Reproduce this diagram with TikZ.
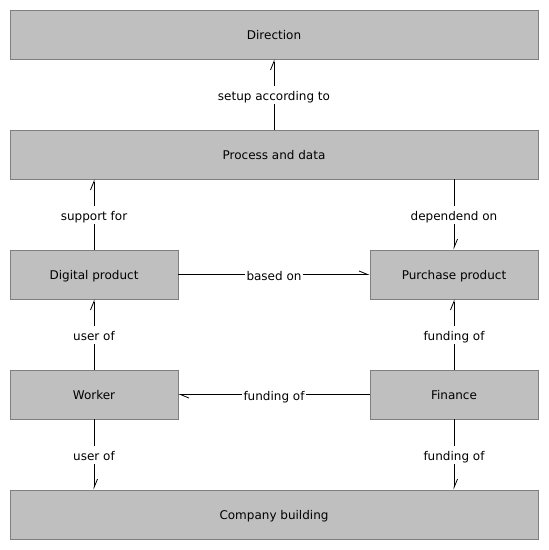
\documentclass[tikz,border=0pt]{standalone}
\usepackage{fontspec}
\setmainfont{DejaVu Sans}
\usetikzlibrary{arrows.meta}
\definecolor{boxfill}{HTML}{BFBFBF}
\definecolor{boxline}{HTML}{7F7F7F}
\begin{document}
\begin{tikzpicture}[x=1pt,y=-1pt,
  box/.style={draw=boxline,fill=boxfill,line width=0.8pt,minimum height=49pt,inner sep=0pt,text height=9pt,text depth=0pt,font=\fontsize{12}{14}\selectfont},
  wide/.style={box,minimum width=528pt},
  narrow/.style={box,minimum width=168pt},
  conn/.style={line width=0.8pt,-{Straight Barb[harpoon,length=8.5pt,width=7pt]}},
  lbl/.style={fill=white,inner sep=1.5pt,text height=13pt,text depth=2pt,font=\fontsize{12}{14}\selectfont}]
\useasboundingbox (0,0) rectangle (549,550);
\node[wide] (dir) at (274,34.5) {Direction};
\node[wide] (proc) at (274,154.5) {Process and data};
\node[narrow] (dig) at (94,274.5) {Digital product};
\node[narrow] (pur) at (454,274.5) {Purchase product};
\node[narrow] (work) at (94,394.5) {Worker};
\node[narrow] (fin) at (454,394.5) {Finance};
\node[wide] (comp) at (274,514.5) {Company building};
\draw[conn] (proc.north) -- node[lbl]{setup according to} (dir.south);
\draw[conn] (dig.north) -- node[lbl]{support for} (dig.north |- proc.south);
\draw[conn] (pur.north |- proc.south) -- node[lbl]{dependend on} (pur.north);
\draw[conn] (dig.east) -- node[lbl]{based on} (pur.west);
\draw[conn] (work.north) -- node[lbl]{user of} (dig.south);
\draw[conn] (fin.north) -- node[lbl]{funding of} (pur.south);
\draw[conn] (fin.west) -- node[lbl]{funding of} (work.east);
\draw[conn] (work.south) -- node[lbl]{user of} (work.south |- comp.north);
\draw[conn] (fin.south) -- node[lbl]{funding of} (fin.south |- comp.north);
\end{tikzpicture}
\end{document}
